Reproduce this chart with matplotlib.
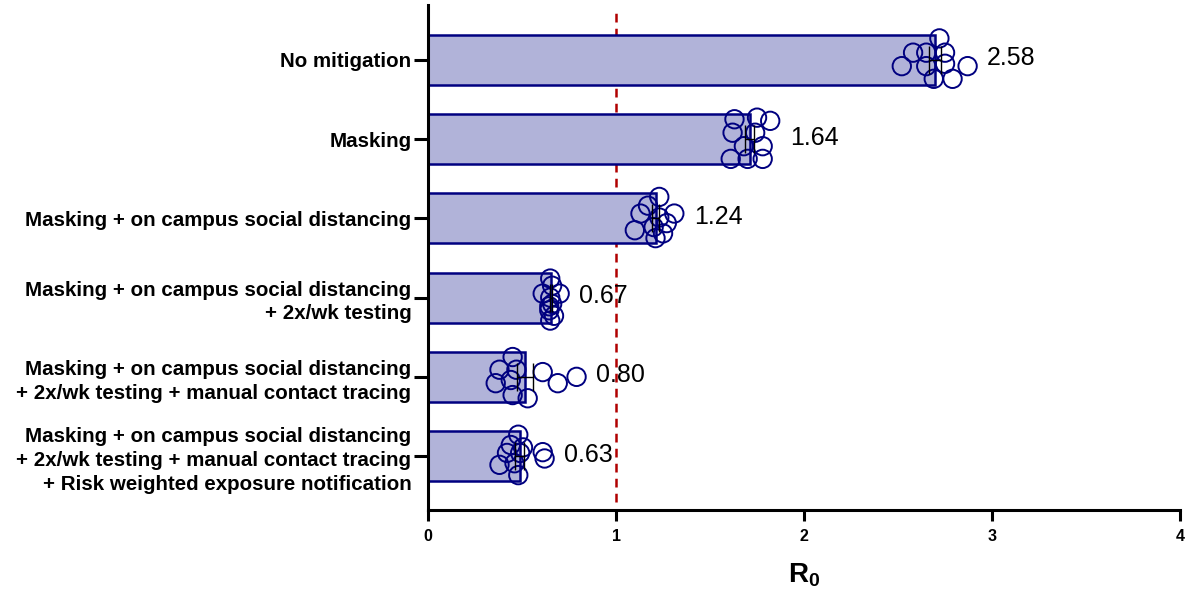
import numpy as np
import matplotlib
matplotlib.use('Agg')
import matplotlib.pyplot as plt

plt.rcParams['font.family'] = ['Liberation Sans', 'DejaVu Sans']
plt.rcParams['mathtext.fontset'] = 'custom'
plt.rcParams['mathtext.rm'] = 'Liberation Sans'
plt.rcParams['mathtext.bf'] = 'Liberation Sans:bold'

# Intervention scenarios (top to bottom)
scenarios = [
    'No mitigation',
    'Masking',
    'Masking + on campus social distancing',
    'Masking + on campus social distancing\n+ 2x/wk testing',
    'Masking + on campus social distancing\n+ 2x/wk testing + manual contact tracing',
    'Masking + on campus social distancing\n+ 2x/wk testing + manual contact tracing\n+ Risk weighted exposure notification',
]

# R0 from individual simulation runs, one list per scenario
r0_no_mitigation = [2.72, 2.58, 2.52, 2.65, 2.75, 2.65, 2.75, 2.87, 2.69, 2.79]
r0_masking = [1.63, 1.82, 1.75, 1.62, 1.74, 1.68, 1.78, 1.61, 1.70, 1.78]
r0_distancing = [1.23, 1.17, 1.31, 1.13, 1.23, 1.10, 1.20, 1.27, 1.25, 1.21]
r0_testing = [0.65, 0.66, 0.61, 0.70, 0.65, 0.66, 0.645, 0.67, 0.65, 0.645]
r0_tracing = [0.45, 0.38, 0.47, 0.36, 0.44, 0.45, 0.53, 0.61, 0.69, 0.79]
r0_exposure = [0.48, 0.44, 0.505, 0.42, 0.49, 0.61, 0.62, 0.38, 0.46, 0.48]
runs = [r0_no_mitigation, r0_masking, r0_distancing, r0_testing, r0_tracing, r0_exposure]

# vertical spread of the points inside each bar (beeswarm layout)
spread = [
    [-0.27, -0.09, 0.08, -0.09, -0.09, 0.08, 0.05, 0.08, 0.24, 0.24],
    [-0.25, -0.23, -0.27, -0.08, -0.08, 0.09, 0.09, 0.25, 0.25, 0.25],
    [-0.27, -0.16, -0.06, -0.06, -0.01, 0.15, 0.11, 0.06, 0.19, 0.25],
    [-0.24, -0.15, -0.05, -0.05, 0.0, 0.08, 0.16, 0.23, 0.29, 0.11],
    [-0.25, -0.09, -0.09, 0.08, 0.04, 0.23, 0.27, -0.06, 0.08, 0.0],
    [-0.27, -0.14, -0.11, -0.04, -0.04, -0.05, 0.03, 0.11, 0.09, 0.24],
]

# reported R0 per scenario
reported = ['2.58', '1.64', '1.24', '0.67', '0.80', '0.63']

navy = '#000080'
fill = '#B1B3D9'

means = [np.mean(r) for r in runs]
sems = [np.std(r, ddof=1) / np.sqrt(len(r)) for r in runs]
ypos = np.arange(len(scenarios))

fig = plt.figure(figsize=(11.88, 5.94), dpi=100)
ax = fig.add_axes([0.3603, 0.1414, 0.633, 0.850])

ax.barh(ypos, means, height=0.63, color=fill, edgecolor=navy, linewidth=1.8, zorder=2)
ax.errorbar(means, ypos, xerr=sems, fmt='none', ecolor='black', elinewidth=1.0,
            capsize=10, capthick=1.0, zorder=4)

for i, (r, dy) in enumerate(zip(runs, spread)):
    ax.scatter(r, i + np.array(dy), s=175, facecolors='none', edgecolors=navy,
               linewidths=1.4, zorder=3)
    ax.annotate(reported[i], xy=(max(r), i), xytext=(14, 1), textcoords='offset points',
                va='center', ha='left', fontsize=18)

ax.axvline(1, ymin=0.015, ymax=0.99, color='#B00000', linestyle=(0, (3.5, 2.5)),
           linewidth=1.8, zorder=1)

ax.set_xlim(0, 4)
ax.set_ylim(5.68, -0.69)
ax.set_xticks([0, 1, 2, 3, 4])
ax.set_xticklabels(['0', '1', '2', '3', '4'], fontweight='bold', fontsize=11.5)
ax.set_yticks(ypos)
ax.set_yticklabels(scenarios, fontweight='bold', fontsize=14.8, ha='right',
                   multialignment='right', linespacing=1.32)
ax.set_xlabel(r'$\mathbf{R_0}$', fontsize=20, labelpad=12)

for side in ['top', 'right']:
    ax.spines[side].set_visible(False)
for side in ['left', 'bottom']:
    ax.spines[side].set_linewidth(2.2)
ax.tick_params(axis='y', length=10, width=2.2, pad=2)
ax.tick_params(axis='x', length=8, width=2.2, pad=6)

fig.savefig('out.png', dpi=100)
